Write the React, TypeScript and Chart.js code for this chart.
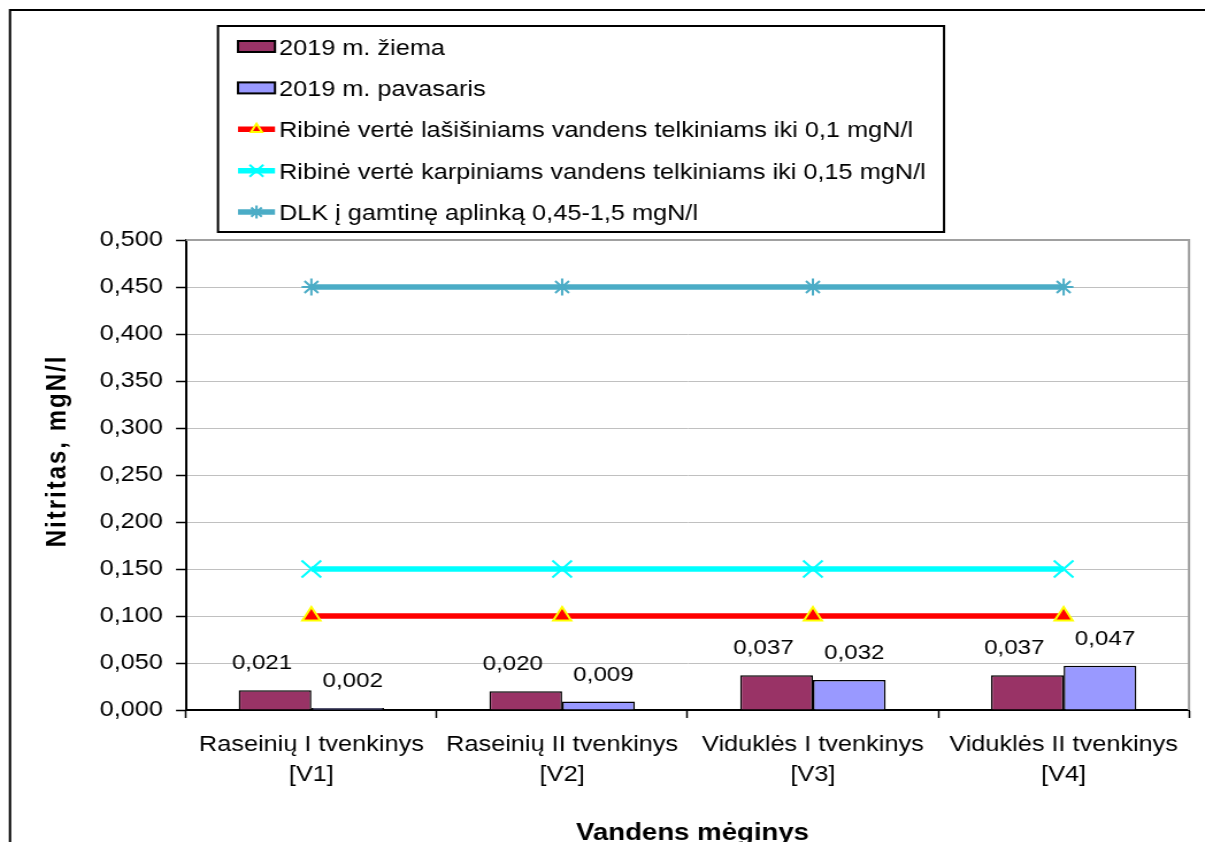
import React, { useEffect, useRef } from 'react';
import { Chart, registerables } from 'chart.js';
import { drawPoint } from 'chart.js/helpers';

Chart.register(...registerables);

const FONT = '"Liberation Sans", Arial, sans-serif';
const SPACING = '0px';
const CSS_W = 1205;
const CSS_H = 842;
const CANVAS_W = 1048;
const SX = CSS_W / CANVAS_W; // horizontal stretch of the whole drawing
const hx = (pageX: number) => (pageX - 8) / SX; // page x -> canvas x
const hw = (w: number) => w / SX;

const categories = [
  ['Raseinių I tvenkinys', '[V1]'],
  ['Raseinių II tvenkinys', '[V2]'],
  ['Viduklės I tvenkinys', '[V3]'],
  ['Viduklės II tvenkinys', '[V4]'],
];
const winterValues = [0.021, 0.02, 0.037, 0.037];
const springValues = [0.002, 0.009, 0.032, 0.047];
const salmonLimit = [0.1, 0.1, 0.1, 0.1];
const carpLimit = [0.15, 0.15, 0.15, 0.15];
const dlkLimit = [0.45, 0.45, 0.45, 0.45];
const seriesLabels = [
  '2019 m. žiema',
  '2019 m. pavasaris',
  'Ribinė vertė lašišiniams vandens telkiniams iki 0,1 mgN/l',
  'Ribinė vertė karpiniams vandens telkiniams iki 0,15 mgN/l',
  'DLK į gamtinę aplinką 0,45-1,5 mgN/l',
];
const yMin = 0;
const yMax = 0.5;
const yStep = 0.05;
const yTitle = 'Nitritas, mgN/l';
const xTitle = 'Vandens mėginys';

const fmt = (v: number) => Number(v).toFixed(3).replace('.', ',');

const spacingPlugin = {
  id: 'spacing',
  beforeUpdate(chart: any) { chart.ctx.letterSpacing = SPACING; },
  beforeLayout(chart: any) { chart.ctx.letterSpacing = SPACING; },
  beforeDraw(chart: any) { chart.ctx.letterSpacing = SPACING; },
};

const framePlugin = {
  id: 'frame',
  beforeDraw(chart: any) {
    const ctx = chart.ctx;
    ctx.save();
    ctx.strokeStyle = '#000';
    ctx.lineWidth = 2;
    ctx.strokeRect(hx(10), 2, chart.width + 20, chart.height + 20);
    ctx.restore();
  },
  afterDraw(chart: any) {
    const ctx = chart.ctx;
    const a = chart.chartArea;
    ctx.save();
    ctx.strokeStyle = '#A0A0A0';
    ctx.lineWidth = 2;
    ctx.beginPath();
    ctx.moveTo(a.left, a.top);
    ctx.lineTo(a.right, a.top);
    ctx.lineTo(a.right, a.bottom);
    ctx.stroke();

    // axis titles
    ctx.fillStyle = '#000';
    ctx.font = `bold 24px ${FONT}`;
    ctx.textBaseline = 'alphabetic';
    ctx.textAlign = 'center';
    ctx.letterSpacing = '0px';
    ctx.fillText(xTitle, (a.left + a.right) / 2 + hw(5), chart.height - 10);
    ctx.letterSpacing = '2px';
    ctx.translate(hx(66), a.top + 211);
    ctx.rotate(-Math.PI / 2);
    ctx.fillText(yTitle, 0, 0);
    ctx.restore();
    ctx.letterSpacing = SPACING;
  },
};

const labelPlugin = {
  id: 'barLabels',
  afterDatasetsDraw(chart: any) {
    const ctx = chart.ctx;
    ctx.save();
    ctx.font = `21px ${FONT}`;
    ctx.fillStyle = '#000';
    ctx.textAlign = 'center';
    ctx.textBaseline = 'alphabetic';
    chart.data.datasets.forEach((ds: any, i: number) => {
      if (ds.type !== 'bar') return;
      const meta = chart.getDatasetMeta(i);
      meta.data.forEach((el: any, j: number) => {
        ctx.fillText(fmt(ds.data[j]), el.x + hw(ds.labelShift), el.y - 21);
      });
    });
    ctx.restore();
  },
};

const legendPlugin = {
  id: 'boxLegend',
  afterDraw(chart: any) {
    const ctx = chart.ctx;
    ctx.save();
    ctx.strokeStyle = '#000';
    ctx.lineWidth = 2;
    const bx0 = hx(218);
    const bx1 = hx(944);
    ctx.strokeRect(bx0, 18, bx1 - bx0, 206);
    const x0 = hx(238);
    const x1 = hx(275);
    const xc = (x0 + x1) / 2;
    chart.data.datasets.forEach((ds: any, i: number) => {
      const cy = 38.5 + i * 41.4;
      if (ds.type === 'bar') {
        ctx.fillStyle = ds.backgroundColor;
        ctx.fillRect(x0, cy - 5.5, x1 - x0, 11);
        ctx.strokeStyle = '#000';
        ctx.lineWidth = 2;
        ctx.strokeRect(x0, cy - 5.5, x1 - x0, 11);
      } else {
        ctx.strokeStyle = ds.borderColor;
        ctx.lineWidth = ds.borderWidth;
        ctx.beginPath();
        ctx.moveTo(x0, cy);
        ctx.lineTo(x1, cy);
        ctx.stroke();
        ctx.fillStyle = ds.pointBackgroundColor;
        ctx.strokeStyle = ds.pointBorderColor;
        ctx.lineWidth = ds.pointBorderWidth;
        drawPoint(ctx, {
          pointStyle: ds.pointStyle,
          rotation: 0,
          radius: ds.legendRadius,
          borderWidth: ds.pointBorderWidth,
        } as any, xc, cy);
      }
      ctx.fillStyle = '#000';
      ctx.font = `22px ${FONT}`;
      ctx.textAlign = 'left';
      ctx.textBaseline = 'alphabetic';
      ctx.fillText(ds.label, hx(279), cy + 8);
    });
    ctx.restore();
  },
};

export default function App() {
  const ref = useRef<HTMLCanvasElement | null>(null);
  useEffect(() => {
    if (!ref.current) return;
    const chart = new Chart(ref.current, {
      type: 'bar',
      data: {
        labels: categories,
        datasets: [
          {
            type: 'bar',
            label: seriesLabels[0],
            data: winterValues,
            backgroundColor: '#993366',
            borderColor: '#000',
            borderWidth: 1.5,
            categoryPercentage: 0.58,
            barPercentage: 1,
            labelShift: -13,
            order: 1,
          } as any,
          {
            type: 'bar',
            label: seriesLabels[1],
            data: springValues,
            backgroundColor: '#9999FF',
            borderColor: '#000',
            borderWidth: 1.5,
            categoryPercentage: 0.58,
            barPercentage: 1,
            labelShift: 5,
            order: 1,
          } as any,
          {
            type: 'line',
            label: seriesLabels[2],
            data: salmonLimit,
            borderColor: '#FF0000',
            backgroundColor: '#FF0000',
            borderWidth: 5.5,
            pointStyle: 'triangle',
            pointRadius: 9,
            pointBackgroundColor: '#FF0000',
            pointBorderColor: '#FFFF00',
            pointBorderWidth: 2,
            legendRadius: 5.5,
            fill: false,
            order: 0,
          } as any,
          {
            type: 'line',
            label: seriesLabels[3],
            data: carpLimit,
            borderColor: '#00FFFF',
            backgroundColor: '#00FFFF',
            borderWidth: 5.5,
            pointStyle: 'crossRot',
            pointRadius: 12,
            pointBackgroundColor: '#00FFFF',
            pointBorderColor: '#00FFFF',
            pointBorderWidth: 2,
            legendRadius: 8.5,
            fill: false,
            order: 0,
          } as any,
          {
            type: 'line',
            label: seriesLabels[4],
            data: dlkLimit,
            borderColor: '#4BACC6',
            backgroundColor: '#4BACC6',
            borderWidth: 5.5,
            pointStyle: 'star',
            pointRadius: 8.5,
            pointBackgroundColor: '#4BACC6',
            pointBorderColor: '#4BACC6',
            pointBorderWidth: 2,
            legendRadius: 6.5,
            fill: false,
            order: 0,
          } as any,
        ],
      },
      options: {
        animation: false,
        responsive: false,
        devicePixelRatio: 1,
        layout: { padding: { top: 232, right: CANVAS_W - hx(1189), left: 0, bottom: 0 } },
        plugins: {
          legend: { display: false },
          tooltip: { enabled: false },
        },
        scales: {
          x: {
            afterFit: (s: any) => { s.height = 140; },
            grid: {
              offset: true,
              drawOnChartArea: false,
              tickColor: '#000',
              tickLength: 8,
              tickWidth: 1.5,
            },
            border: { color: '#000', width: 2 },
            ticks: {
              color: '#000',
              font: { family: FONT, size: 22, lineHeight: 1.36 },
              padding: 12,
              maxRotation: 0,
              autoSkip: false,
            },
          },
          y: {
            min: yMin,
            max: yMax,
            afterFit: (s: any) => { s.width = hx(186); },
            grid: {
              color: '#C0C0C0',
              lineWidth: 1,
              tickColor: '#000',
              tickLength: hw(10),
              tickWidth: 1.5,
            },
            border: { color: '#000', width: 2 },
            ticks: {
              stepSize: yStep,
              color: '#000',
              font: { family: FONT, size: 22 },
              padding: hw(13),
              callback: (v: any) => fmt(v),
            },
          },
        },
      } as any,
      plugins: [spacingPlugin, framePlugin, labelPlugin, legendPlugin],
    });
    return () => chart.destroy();
  }, []);
  return (
    <div style={{ width: CSS_W, height: CSS_H, marginBottom: -8, overflow: 'hidden' }}>
      <canvas
        ref={ref}
        width={CANVAS_W}
        height={CSS_H}
        style={{ display: 'block', width: CSS_W, height: CSS_H }}
      />
    </div>
  );
}
